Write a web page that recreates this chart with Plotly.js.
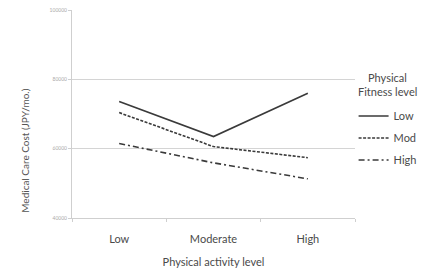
<!DOCTYPE html>
<html><head><meta charset="utf-8">
<script src="https://cdn.plot.ly/plotly-3.0.1.min.js"></script>
<style>html,body{margin:0;padding:0;background:#fff;}#chart{width:427px;height:270px;}</style>
</head><body><div id="chart"></div>
<script>
const categories = ["Low", "Moderate", "High"];
const seriesNames = ["Low", "Mod", "High"];
const lowFitness = [73600, 63500, 76000];
const modFitness = [70400, 60600, 57400];
const highFitness = [61500, 55900, 51300];
const yTicks = [40000, 60000, 80000, 100000];

const FONT = "Lato, 'Open Sans', sans-serif";
const TXT = "#4a4a4a";
const dashes = ["solid", "3px,1.5px", "6px,3px,2px,3px"];
const allVals = [lowFitness, modFitness, highFitness];
const traces = allVals.map((v, i) => ({
  x: categories, y: v, type: "scatter", mode: "lines", name: seriesNames[i],
  legendgroup: "g" + i,
  line: {color: "#3a3a3a", width: 1.6, dash: dashes[i]}
}));

const layout = {
  width: 427, height: 270,
  margin: {l: 72, r: 71.5, t: 10, b: 52, autoexpand: false},
  paper_bgcolor: "#fff", plot_bgcolor: "#fff",
  font: {family: FONT, color: TXT, size: 10},
  showlegend: true,
  legend: {
    x: 0.995, xanchor: "left", y: 0.56, yanchor: "top",
    font: {size: 11, color: TXT, family: FONT},
    itemwidth: 30, traceorder: "grouped", tracegroupgap: 3,
    bgcolor: "rgba(0,0,0,0)"
  },
  annotations: [
    {
      text: "Physical", xref: "paper", yref: "paper",
      x: 1.115, y: (217 - 77) / 207, xanchor: "center", yanchor: "middle", showarrow: false,
      font: {size: 11, color: TXT, family: FONT}
    },
    {
      text: "Fitness level", xref: "paper", yref: "paper",
      x: 1.115, y: (217 - 91) / 207, xanchor: "center", yanchor: "middle", showarrow: false,
      font: {size: 11, color: TXT, family: FONT}
    },
    {
      text: "Medical Care Cost (JPY/mo.)", xref: "paper", yref: "paper",
      x: -0.169, y: 0.324, xanchor: "center", yanchor: "middle", showarrow: false,
      textangle: -90, font: {size: 10, color: "#555", family: FONT}
    }
  ],
  xaxis: {
    type: "category", range: [-0.5, 2.5],
    showline: true, linecolor: "#cfcfcf", linewidth: 1,
    showgrid: false, zeroline: false,
    ticks: "outside", tickson: "boundaries", ticklen: 3, tickcolor: "#cfcfcf",
    ticklabelstandoff: 11,
    tickfont: {size: 11, color: TXT, family: FONT},
    title: {text: "Physical activity level", font: {size: 11, color: TXT, family: FONT}, standoff: 14}
  },
  yaxis: {
    range: [40000, 100000], tickvals: yTicks, ticktext: yTicks.map(String),
    showline: true, linecolor: "#cfcfcf", linewidth: 1, mirror: false,
    showgrid: true, gridcolor: "#d4d4d4", gridwidth: 1, zeroline: false,
    ticks: "outside", ticklen: 3, tickcolor: "#cfcfcf",
    tickfont: {size: 5, color: "#aaa", family: FONT}
  }
};
Plotly.newPlot("chart", traces, layout, {displayModeBar: false, staticPlot: true});
</script></body></html>
